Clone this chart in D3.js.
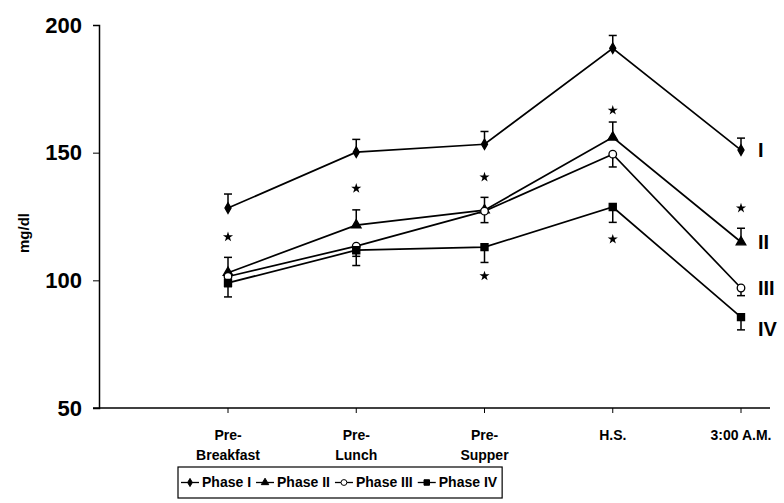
<!DOCTYPE html>
<html>
<head>
<meta charset="utf-8">
<script src="https://cdn.jsdelivr.net/npm/d3@7"></script>
<style>
  body { margin: 0; background: #fff; }
  text { font-family: "Liberation Sans", Arial, sans-serif; font-weight: bold; fill: #000; }
</style>
</head>
<body>
<svg id="chart" width="784" height="503"></svg>
<script>
// data
const categories = ["Pre-Breakfast", "Pre-Lunch", "Pre-Supper", "H.S.", "3:00 A.M."];
const catLines = [["Pre-", "Breakfast"], ["Pre-", "Lunch"], ["Pre-", "Supper"], ["H.S."], ["3:00 A.M."]];
const phaseNames = ["Phase I", "Phase II", "Phase III", "Phase IV"];
const endLabels = ["I", "II", "III", "IV"];
const phase1 = [128.3, 150.2, 153.3, 190.9, 151];
const phase2 = [103, 121.6, 127.5, 156, 115];
const phase3 = [101.5, 113.4, 127.1, 149.4, 97];
const phase4 = [99, 111.8, 113, 128.7, 85.6];
const err1 = [5.5, 5, 5, 5, 4.7];
const err2 = [6, 6, 5, 6, 5.4];
const err3 = [4, 4, 4.5, 5, 3];
const err4 = [5.5, 6, 6, 6, 5];
const starsUpper = [117, 136, 140.4, 166.6, 128.3];
const starsLower = [null, null, 101.7, 116.1, null];
const yTicks = [50, 100, 150, 200];

const svg = d3.select("#chart");
const margin = {left: 99, top: 25, bottom: 95};
const width = 784, height = 503;

const y = d3.scaleLinear().domain([50, 200]).range([height - margin.bottom, margin.top]);
const x = d3.scalePoint().domain(categories).range([228, 741]);

const phases = [
    {name: phaseNames[0], vals: phase1, err: err1, dir: 1, sym: d3.symbolDiamond, size: 32, fill: "#000"},
    {name: phaseNames[1], vals: phase2, err: err2, dir: 1, sym: d3.symbolTriangle, size: 40, fill: "#000"},
    {name: phaseNames[2], vals: phase3, err: err3, dir: -1, sym: d3.symbolCircle, size: 45, fill: "#fff"},
    {name: phaseNames[3], vals: phase4, err: err4, dir: -1, sym: d3.symbolSquare, size: 50, fill: "#000"}
];

// axes
const yAxis = d3.axisLeft(y).tickValues(yTicks).tickSize(6).tickFormat(d3.format("d"));
const gy = svg.append("g").attr("transform", `translate(${margin.left},0)`).call(yAxis);
gy.select(".domain").attr("stroke-width", 1.5);
gy.selectAll("text").style("font-size", "22px").attr("dx", "-8px");

svg.append("line")
    .attr("x1", margin.left - 6).attr("x2", 770)
    .attr("y1", y(50)).attr("y2", y(50))
    .attr("stroke", "#000").attr("stroke-width", 1.5);

svg.selectAll(".xtick")
    .data(categories)
    .enter().append("line")
    .attr("x1", d => x(d)).attr("x2", d => x(d))
    .attr("y1", y(50)).attr("y2", y(50) + 5)
    .attr("stroke", "#000");

const xl = svg.selectAll(".xlab")
    .data(categories)
    .enter().append("text")
    .attr("x", d => x(d))
    .attr("y", y(50) + 32)
    .attr("text-anchor", "middle")
    .style("font-size", "14px");
xl.selectAll("tspan")
    .data((d, i) => catLines[i].map(t => ({t, cx: x(d)})))
    .enter().append("tspan")
    .attr("x", d => d.cx)
    .attr("dy", (d, i) => i ? 20 : 0)
    .text(d => d.t);

svg.append("text")
    .attr("transform", `translate(29,233) rotate(-90)`)
    .attr("text-anchor", "middle")
    .style("font-size", "15px")
    .text("mg/dl");

// error bars
phases.forEach(p => {
    const g = svg.append("g");
    categories.forEach((c, i) => {
        const y0 = y(p.vals[i]), y1 = y(p.vals[i] + p.dir * p.err[i]);
        g.append("line").attr("x1", x(c)).attr("x2", x(c)).attr("y1", y0).attr("y2", y1)
            .attr("stroke", "#000").attr("stroke-width", 1.5);
        g.append("line").attr("x1", x(c) - 4).attr("x2", x(c) + 4).attr("y1", y1).attr("y2", y1)
            .attr("stroke", "#000").attr("stroke-width", 1.5);
    });
});

// lines
const line = d3.line().x((d, i) => x(categories[i])).y(d => y(d));
phases.forEach(p => {
    svg.append("path")
        .attr("d", line(p.vals))
        .attr("fill", "none")
        .attr("stroke", "#000")
        .attr("stroke-width", 1.7);
});

// markers
phases.forEach(p => {
    svg.selectAll(null)
        .data(p.vals)
        .enter().append("path")
        .attr("d", d3.symbol().type(p.sym).size(p.size))
        .attr("transform", (d, i) => `translate(${x(categories[i])},${y(d)})`)
        .attr("fill", p.fill)
        .attr("stroke", "#000")
        .attr("stroke-width", 1.3);
});

// significance stars
const stars = [];
categories.forEach((c, i) => {
    if (starsUpper[i] != null) stars.push([c, starsUpper[i]]);
    if (starsLower[i] != null) stars.push([c, starsLower[i]]);
});
svg.selectAll(".star")
    .data(stars)
    .enter().append("path")
    .attr("d", d3.symbol().type(d3.symbolStar).size(32))
    .attr("transform", d => `translate(${x(d[0])},${y(d[1])})`)
    .attr("fill", "#000");

// end labels
const endOffsets = [0, 0, 0, 12];
svg.selectAll(".endlab")
    .data(phases)
    .enter().append("text")
    .attr("x", x(categories[4]) + 17)
    .attr("y", (d, i) => y(d.vals[4]) + endOffsets[i])
    .attr("dy", "0.35em")
    .style("font-size", "20px")
    .text((d, i) => endLabels[i]);

// legend
const lg = svg.append("g");
const lx = 178, ly = 467, lh = 31;
const box = lg.append("rect").attr("x", lx).attr("y", ly).attr("height", lh)
    .attr("fill", "#fff").attr("stroke", "#000").attr("stroke-width", 1.2);
let cx = lx + 3;
phases.forEach(p => {
    const item = lg.append("g");
    item.append("line").attr("x1", cx).attr("x2", cx + 18)
        .attr("y1", ly + lh / 2).attr("y2", ly + lh / 2)
        .attr("stroke", "#000").attr("stroke-width", 1.3);
    item.append("path")
        .attr("d", d3.symbol().type(p.sym).size(p.size * 0.6))
        .attr("transform", `translate(${cx + 9},${ly + lh / 2})`)
        .attr("fill", p.fill).attr("stroke", "#000");
    const t = item.append("text")
        .attr("x", cx + 21).attr("y", ly + lh / 2)
        .attr("dy", "0.35em")
        .style("font-size", "14px")
        .text(p.name);
    cx += 21 + t.node().getComputedTextLength() + 5;
});
box.attr("width", cx - lx);
</script>
</body>
</html>
